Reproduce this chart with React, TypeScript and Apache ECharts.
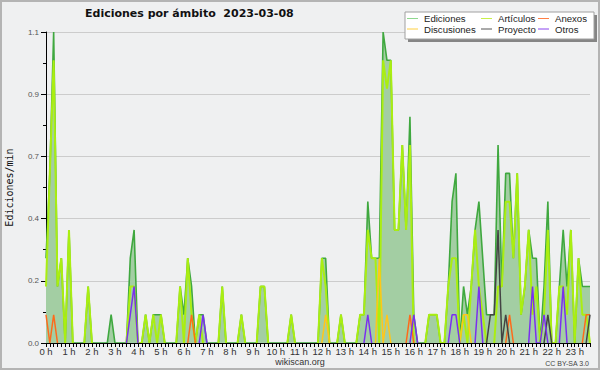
import React, { useEffect, useRef } from "react";
import * as echarts from "echarts";

// 10-minute slots, 00:00 .. 23:40 (143 points), one row per hour
const EDICIONES = [
  0.3, 0.6, 1.1, 0.2, 0.3, 0,
  0.4, 0, 0, 0, 0, 0.2,
  0, 0, 0, 0, 0, 0.1,
  0, 0, 0, 0, 0.3, 0.4,
  0, 0, 0.1, 0, 0.1, 0.1,
  0.1, 0, 0, 0, 0, 0.2,
  0.1, 0.3, 0.2, 0, 0.1, 0.1,
  0, 0, 0, 0, 0.2, 0,
  0, 0, 0, 0.1, 0, 0,
  0, 0, 0.2, 0.2, 0, 0,
  0, 0, 0, 0, 0.1, 0,
  0, 0, 0, 0, 0, 0,
  0.3, 0.3, 0, 0, 0, 0.1,
  0, 0, 0, 0, 0.1, 0.1,
  0.5, 0.3, 0.3, 0.3, 1.1, 1.0,
  1.0, 0.4, 0.4, 0.7, 0.4, 0.8,
  0.1, 0, 0, 0, 0.1, 0.1,
  0.1, 0, 0, 0.2, 0.5, 0.6,
  0, 0.2, 0.1, 0.2, 0.4, 0.5,
  0.3, 0.1, 0.1, 0.1, 0.7, 0.2,
  0.6, 0.6, 0.3, 0.6, 0.1, 0.2,
  0.4, 0.3, 0.3, 0, 0.2, 0.5,
  0, 0, 0.2, 0.4, 0.2, 0.4,
  0, 0.3, 0.2, 0.2, 0.2,
];
const ARTICULOS = [
  0.2, 0.6, 1.0, 0.2, 0.3, 0,
  0.4, 0, 0, 0, 0, 0.2,
  0, 0, 0, 0, 0, 0,
  0, 0, 0, 0, 0.2, 0.2,
  0, 0, 0.1, 0, 0.1, 0,
  0.1, 0, 0, 0, 0, 0.2,
  0, 0.3, 0.1, 0, 0.1, 0,
  0, 0, 0, 0, 0.2, 0,
  0, 0, 0, 0.1, 0, 0,
  0, 0, 0.2, 0.2, 0, 0,
  0, 0, 0, 0, 0.1, 0,
  0, 0, 0, 0, 0, 0,
  0.3, 0.2, 0, 0, 0, 0.1,
  0, 0, 0, 0, 0.1, 0.1,
  0.4, 0.3, 0.3, 0, 1.0, 0.9,
  1.0, 0.4, 0.4, 0.7, 0.4, 0.7,
  0, 0, 0, 0, 0.1, 0.1,
  0.1, 0, 0, 0.2, 0.3, 0.3,
  0, 0.1, 0, 0.2, 0.4, 0.2,
  0.1, 0, 0, 0, 0.2, 0.2,
  0.5, 0.5, 0.3, 0.6, 0.1, 0.2,
  0.4, 0.1, 0.2, 0, 0.1, 0.4,
  0, 0, 0.2, 0.2, 0.1, 0.4,
  0, 0.3, 0.1, 0.1, 0,
];
const ANEXOS = [
  0.1, 0, 0.1, 0, 0, 0,
  0, 0, 0, 0, 0, 0,
  0, 0, 0, 0, 0, 0,
  0, 0, 0, 0, 0, 0,
  0, 0, 0, 0, 0, 0,
  0, 0, 0, 0, 0, 0,
  0, 0, 0.1, 0, 0, 0,
  0, 0, 0, 0, 0, 0,
  0, 0, 0, 0, 0, 0,
  0, 0, 0, 0, 0, 0,
  0, 0, 0, 0, 0, 0,
  0, 0, 0, 0, 0, 0,
  0, 0, 0, 0, 0, 0,
  0, 0, 0, 0, 0, 0,
  0, 0, 0, 0, 0, 0,
  0, 0, 0, 0, 0, 0.1,
  0, 0, 0, 0, 0, 0,
  0, 0, 0, 0, 0, 0,
  0, 0, 0, 0, 0, 0,
  0, 0, 0, 0, 0, 0,
  0, 0.1, 0, 0, 0, 0,
  0, 0, 0, 0, 0, 0,
  0, 0, 0, 0, 0, 0,
  0, 0, 0, 0.1, 0.1,
];
const DISCUSIONES = [
  0, 0, 0, 0, 0, 0,
  0, 0, 0, 0, 0, 0,
  0, 0, 0, 0, 0, 0,
  0, 0, 0, 0, 0, 0,
  0, 0, 0, 0, 0, 0,
  0, 0, 0, 0, 0, 0,
  0, 0, 0, 0, 0, 0,
  0, 0, 0, 0, 0, 0,
  0, 0, 0, 0, 0, 0,
  0, 0, 0, 0, 0, 0,
  0, 0, 0, 0, 0, 0,
  0, 0, 0, 0, 0, 0,
  0, 0.1, 0, 0, 0, 0,
  0, 0, 0, 0, 0, 0,
  0, 0, 0, 0.3, 0, 0.1,
  0, 0, 0, 0, 0, 0,
  0, 0, 0, 0, 0, 0,
  0, 0, 0, 0, 0, 0,
  0, 0.1, 0.1, 0, 0, 0,
  0, 0, 0, 0, 0, 0,
  0, 0, 0, 0, 0, 0,
  0, 0, 0, 0, 0, 0,
  0, 0, 0, 0, 0, 0,
  0, 0, 0, 0, 0,
];
const PROYECTO = [
  0, 0, 0, 0, 0, 0,
  0, 0, 0, 0, 0, 0,
  0, 0, 0, 0, 0, 0,
  0, 0, 0, 0, 0, 0,
  0, 0, 0, 0, 0, 0,
  0, 0, 0, 0, 0, 0,
  0, 0, 0, 0, 0, 0,
  0, 0, 0, 0, 0, 0,
  0, 0, 0, 0, 0, 0,
  0, 0, 0, 0, 0, 0,
  0, 0, 0, 0, 0, 0,
  0, 0, 0, 0, 0, 0,
  0, 0, 0, 0, 0, 0,
  0, 0, 0, 0, 0, 0,
  0, 0, 0, 0, 0, 0,
  0, 0, 0, 0, 0, 0,
  0, 0, 0, 0, 0, 0,
  0, 0, 0, 0, 0, 0,
  0, 0, 0, 0, 0, 0,
  0, 0, 0.1, 0.1, 0.4, 0,
  0.1, 0, 0, 0, 0, 0,
  0, 0, 0, 0, 0, 0.1,
  0, 0, 0, 0, 0, 0,
  0, 0, 0, 0, 0.1,
];
const OTROS = [
  0, 0, 0, 0, 0, 0,
  0, 0, 0, 0, 0, 0,
  0, 0, 0, 0, 0, 0,
  0, 0, 0, 0, 0.1, 0.2,
  0, 0, 0, 0, 0, 0,
  0, 0, 0, 0, 0, 0,
  0, 0, 0, 0, 0, 0.1,
  0, 0, 0, 0, 0, 0,
  0, 0, 0, 0, 0, 0,
  0, 0, 0, 0, 0, 0,
  0, 0, 0, 0, 0, 0,
  0, 0, 0, 0, 0, 0,
  0, 0, 0, 0, 0, 0,
  0, 0, 0, 0, 0, 0,
  0.1, 0, 0, 0, 0, 0,
  0, 0, 0, 0, 0, 0,
  0.1, 0, 0, 0, 0, 0,
  0, 0, 0, 0, 0.1, 0.1,
  0, 0, 0, 0, 0, 0.2,
  0, 0, 0, 0, 0, 0,
  0, 0, 0, 0, 0, 0,
  0, 0.2, 0, 0, 0.1, 0,
  0, 0, 0, 0.2, 0, 0,
  0, 0, 0, 0, 0,
];

const HOUR_LABELS = [
  "0 h", "1 h", "2 h", "3 h", "4 h", "5 h", "6 h", "7 h", "8 h", "9 h", "10 h", "11 h",
  "12 h", "13 h", "14 h", "15 h", "16 h", "17 h", "18 h", "19 h", "20 h", "21 h", "22 h", "23 h",
];
const Y_MAX = 1.1;
const Y_STEP = 0.22;

const TITLE = "Ediciones por ámbito  2023-03-08";

const COLORS = {
  area: "#a3cea3",
  ediciones: "#3fa83f",
  articulos: "#aaee11",
  anexos: "#ff6a1a",
  discusiones: "#ffc61a",
  proyecto: "#444444",
  otros: "#7a2ff0",
};

// hide long flat runs on the baseline, keep V shapes
function sparse(arr: number[]) {
  return arr.map((v, i) =>
    v === 0 && (arr[i - 1] || 0) === 0 && (arr[i + 1] || 0) === 0 ? null : v
  );
}

export default function App() {
  const ref = useRef<HTMLDivElement>(null);
  useEffect(() => {
    if (!ref.current) return;
    const chart = echarts.init(ref.current, undefined, { renderer: "svg" });
    const categories = EDICIONES.map((_, i) => `${Math.floor(i / 6)}:${i % 6}0`);
    const lineSeries = (name: string, data: any[], color: string, width: number, extra: any = {}) => ({
      type: "line",
      name,
      data,
      symbol: "none",
      silent: true,
      lineStyle: { color, width },
      itemStyle: { color },
      ...extra,
    });
    const legendItems = [
      { name: "Ediciones", color: "#8fd88f", x: 407, y: 18.5 },
      { name: "Artículos", color: "#c8f04a", x: 481, y: 18.5 },
      { name: "Anexos", color: "#ff7f45", x: 538, y: 18.5 },
      { name: "Discusiones", color: "#ffd040", x: 407, y: 29 },
      { name: "Proyecto", color: "#555555", x: 481, y: 29 },
      { name: "Otros", color: "#8a44ee", x: 538, y: 29 },
    ];
    const legendGraphics: any[] = [];
    legendItems.forEach((it) => {
      legendGraphics.push({
        type: "line",
        shape: { x1: it.x, y1: it.y, x2: it.x + 11, y2: it.y },
        style: { stroke: it.color, lineWidth: 1 },
        z: 101,
      });
      legendGraphics.push({
        type: "text",
        x: it.x + 17,
        y: it.y,
        style: {
          text: it.name,
          fill: "#222",
          font: "9.6px 'Liberation Sans', Arial, sans-serif",
          verticalAlign: "middle",
          align: "left",
        },
        z: 101,
      });
    });

    chart.setOption({
      animation: false,
      backgroundColor: "#eff0f1",
      grid: { left: 46, right: 10, top: 32, bottom: 27, containLabel: false },
      xAxis: {
        type: "category",
        data: categories,
        boundaryGap: false,
        z: 5,
        axisLine: { show: true, lineStyle: { color: "#000", width: 1 } },
        axisTick: { show: true, interval: 0, length: 4, lineStyle: { color: "#000", width: 1 } },
        axisLabel: {
          interval: 5,
          margin: 3,
          color: "#333",
          fontSize: 9.5,
          fontFamily: "'Liberation Sans', Arial, sans-serif",
          formatter: (_v: string, idx: number) => HOUR_LABELS[Math.floor(idx / 6)] || "",
        },
        splitLine: { show: false },
      },
      yAxis: {
        type: "value",
        min: 0,
        max: Y_MAX,
        interval: Y_STEP,
        axisLine: { show: true, lineStyle: { color: "#000", width: 1 } },
        axisTick: { show: true, length: 5, lineStyle: { color: "#000" } },
        minorTick: { show: true, splitNumber: 2, length: 3, lineStyle: { color: "#000" } },
        axisLabel: {
          margin: 7,
          color: "#555",
          fontSize: 8,
          fontFamily: "'Liberation Sans', Arial, sans-serif",
          formatter: (v: number) => v.toFixed(1),
        },
        splitLine: { show: true, lineStyle: { color: "#cccccc", width: 1 } },
      },
      series: [
        lineSeries("Ediciones", EDICIONES, COLORS.ediciones, 1.6, {
          areaStyle: { color: COLORS.area, opacity: 1 },
          z: 2,
        }),
        lineSeries("Artículos", sparse(ARTICULOS), COLORS.articulos, 2, { z: 3 }),
        lineSeries("Anexos", sparse(ANEXOS), COLORS.anexos, 1.5, { z: 3 }),
        lineSeries("Discusiones", sparse(DISCUSIONES), COLORS.discusiones, 1.5, { z: 3 }),
        lineSeries("Proyecto", sparse(PROYECTO), COLORS.proyecto, 1.5, { z: 3 }),
        lineSeries("Otros", sparse(OTROS), COLORS.otros, 1.5, { z: 3 }),
      ],
      graphic: [
        {
          type: "rect",
          shape: { x: 1, y: 1, width: 598, height: 368 },
          style: { fill: "none", stroke: "#b4b4b4", lineWidth: 2 },
          z: 100,
          silent: true,
        },
        {
          type: "text",
          x: 85,
          y: 13.5,
          style: {
            text: TITLE,
            fill: "#111",
            font: "bold 11px 'DejaVu Sans', sans-serif",
            verticalAlign: "middle",
            align: "left",
          },
          z: 100,
        },
        {
          type: "text",
          x: 9.5,
          y: 187.5,
          rotation: Math.PI / 2,
          style: {
            text: "Ediciones/min",
            fill: "#111",
            font: "10px 'DejaVu Sans Mono', monospace",
            verticalAlign: "middle",
            align: "center",
          },
          z: 100,
        },
        {
          type: "text",
          x: 300,
          y: 361.5,
          style: {
            text: "wikiscan.org",
            fill: "#333",
            font: "9px 'Liberation Sans', Arial, sans-serif",
            verticalAlign: "middle",
            align: "center",
          },
          z: 100,
        },
        {
          type: "text",
          x: 589,
          y: 363,
          style: {
            text: "CC BY-SA 3.0",
            fill: "#444",
            font: "7px 'Liberation Sans', Arial, sans-serif",
            verticalAlign: "middle",
            align: "right",
          },
          z: 100,
        },
        {
          type: "rect",
          shape: { x: 408, y: 15, width: 189, height: 27 },
          style: { fill: "#858585" },
          z: 99,
        },
        {
          type: "rect",
          shape: { x: 405, y: 12, width: 189, height: 27 },
          style: { fill: "#ffffff", stroke: "#a0a0a0", lineWidth: 1 },
          z: 100,
        },
        ...legendGraphics,
      ],
    });
    return () => chart.dispose();
  }, []);
  return (
    <div
      ref={ref}
      style={{ position: "absolute", left: 0, top: 0, width: 600, height: 370 }}
    />
  );
}
